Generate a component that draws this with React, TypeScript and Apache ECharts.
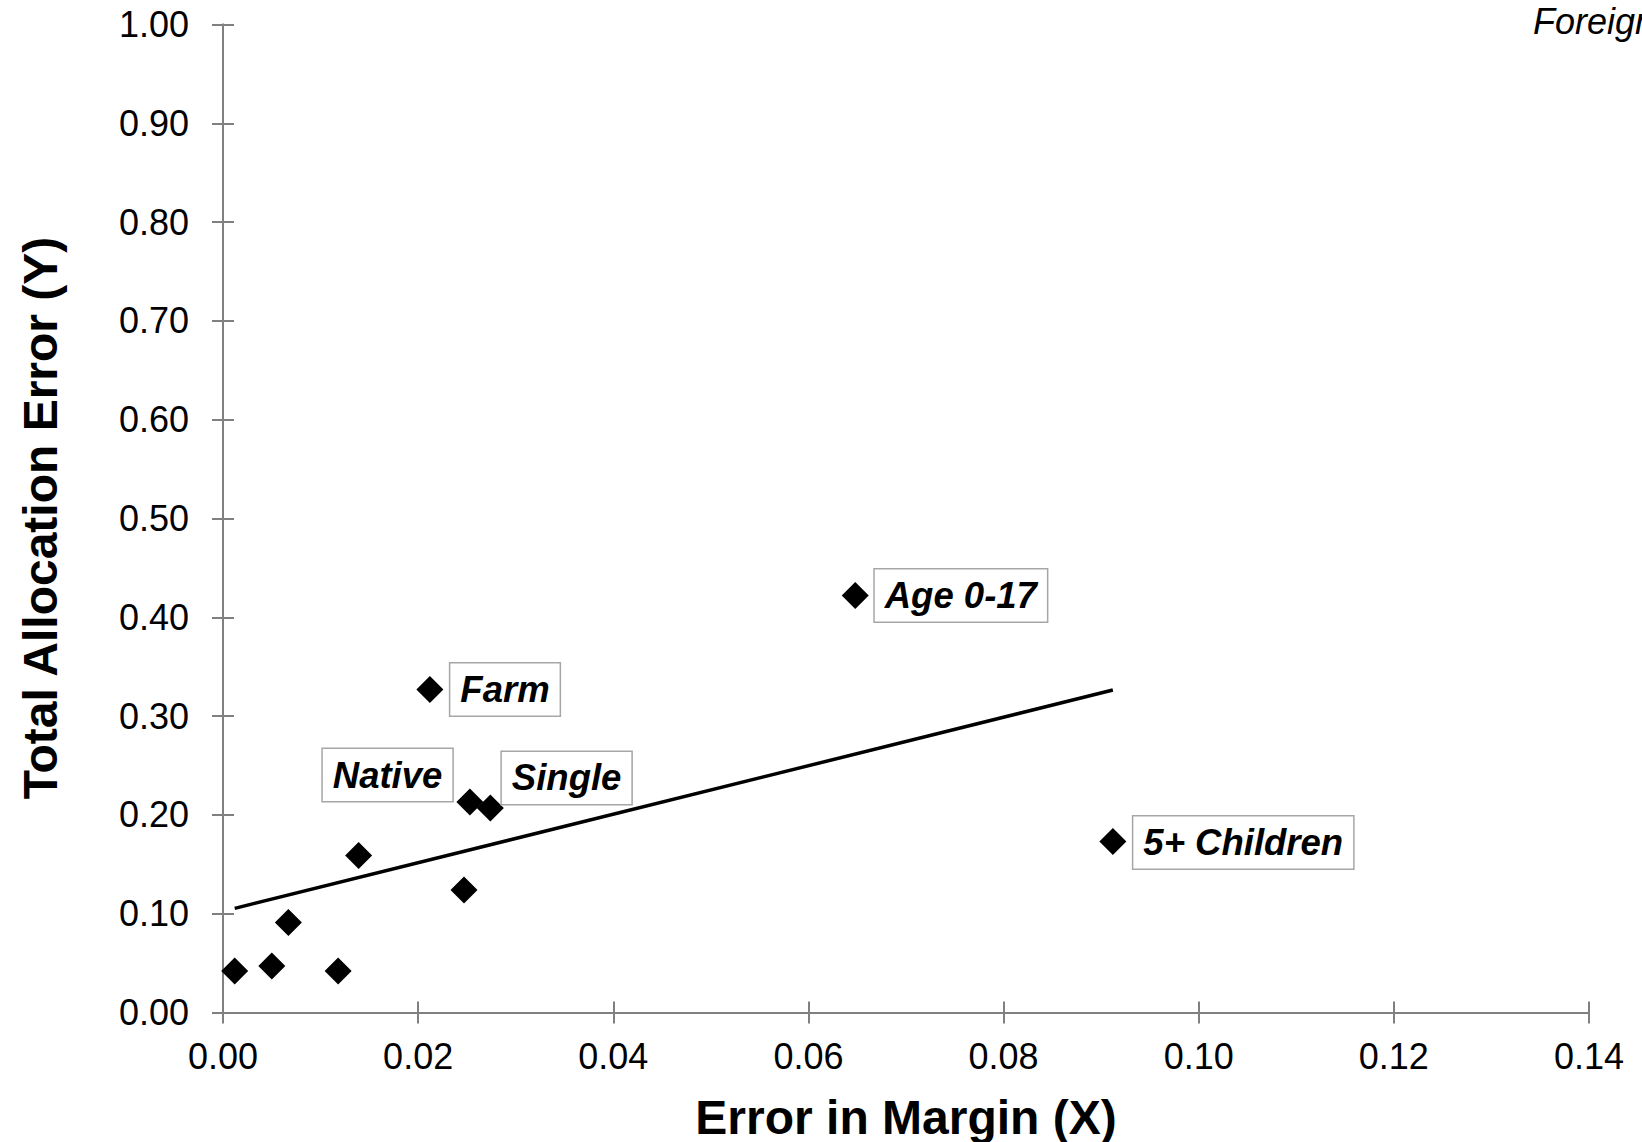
import React, { useEffect, useRef } from "react";
import * as echarts from "echarts";

// Data
const errorInMargin = [0.0012, 0.0050, 0.0067, 0.0118, 0.0139, 0.0212, 0.0247, 0.0253, 0.0274, 0.0648, 0.0912];
const totalAllocationError = [0.042, 0.047, 0.091, 0.042, 0.159, 0.327, 0.124, 0.213, 0.207, 0.422, 0.173];
const pointNames = ["", "", "", "", "", "Farm", "", "Native", "Single", "Age 0-17", "5+ Children"];
const xAxisRange = [0, 0.14];
const xTickStep = 0.02;
const yAxisRange = [0, 1];
const yTickStep = 0.1;
const xAxisTitle = "Error in Margin (X)";
const yAxisTitle = "Total Allocation Error (Y)";
const cornerNote = "Foreign Born";

const FONT = "'Liberation Sans', Arial, Helvetica, sans-serif";

function regression(xs: number[], ys: number[]) {
  const n = xs.length;
  const mx = xs.reduce((a, b) => a + b, 0) / n;
  const my = ys.reduce((a, b) => a + b, 0) / n;
  let sxy = 0;
  let sxx = 0;
  for (let i = 0; i < n; i++) {
    sxy += (xs[i] - mx) * (ys[i] - my);
    sxx += (xs[i] - mx) * (xs[i] - mx);
  }
  const slope = sxy / sxx;
  return { slope, intercept: my - slope * mx };
}

const labelPlacement: Record<string, any> = {
  Farm: { position: "right", distance: 7, offset: [0, 0] },
  Native: { position: "left", distance: 4, offset: [0, -27] },
  Single: { position: "right", distance: -2, offset: [0, -30] },
  "Age 0-17": { position: "right", distance: 6, offset: [0, 0] },
  "5+ Children": { position: "right", distance: 7, offset: [0, 1] },
};

export default function App() {
  const ref = useRef<HTMLDivElement>(null);

  useEffect(() => {
    if (!ref.current) return;
    const chart = echarts.init(ref.current, undefined, { renderer: "svg" });

    const { slope, intercept } = regression(errorInMargin, totalAllocationError);
    const xMin = Math.min(...errorInMargin);
    const xMax = Math.max(...errorInMargin);
    const trend = [
      [xMin, intercept + slope * xMin],
      [xMax, intercept + slope * xMax],
    ];

    const points = errorInMargin.map((x, i) => {
      const name = pointNames[i];
      const place = labelPlacement[name];
      return {
        value: [x, totalAllocationError[i]],
        name,
        label: name
          ? {
              show: true,
              formatter: name,
              position: place.position,
              distance: place.distance,
              offset: place.offset,
              color: "#000",
              opacity: 1,
              fontFamily: FONT,
              fontSize: 36.5,
              fontWeight: "bold",
              fontStyle: "italic",
              lineHeight: 42,
              backgroundColor: "#ffffff",
              borderColor: "#a6a6a6",
              borderWidth: 1.5,
              padding: [5, 10, 5, 10],
            }
          : { show: false },
      };
    });

    const axisLineStyle = { color: "#808080", width: 2 };
    const labelFmt = (v: number) => v.toFixed(2);

    const baseX = {
      type: "value",
      min: xAxisRange[0],
      max: xAxisRange[1],
      interval: xTickStep,
      position: "bottom",
      splitLine: { show: false },
      axisLine: { show: true, onZero: false, lineStyle: axisLineStyle },
    };
    const baseY = {
      type: "value",
      min: yAxisRange[0],
      max: yAxisRange[1],
      interval: yTickStep,
      position: "left",
      splitLine: { show: false },
      axisLine: { show: true, onZero: false, lineStyle: axisLineStyle },
    };

    chart.setOption({
      animation: false,
      backgroundColor: "#ffffff",
      grid: { left: 223, right: 53, top: 24.5, bottom: 129.5, containLabel: false },
      xAxis: [
        {
          ...baseX,
          axisTick: { show: true, inside: false, length: 11, lineStyle: axisLineStyle },
          axisLabel: {
            show: true,
            margin: 26,
            formatter: labelFmt,
            color: "#000",
            fontFamily: FONT,
            fontSize: 36,
          },
        },
        {
          ...baseX,
          axisTick: { show: true, inside: true, length: 11, lineStyle: axisLineStyle },
          axisLabel: { show: false },
        },
      ],
      yAxis: [
        {
          ...baseY,
          axisTick: { show: true, inside: false, length: 11, lineStyle: axisLineStyle },
          axisLabel: {
            show: true,
            margin: 34,
            formatter: labelFmt,
            color: "#000",
            fontFamily: FONT,
            fontSize: 36,
          },
        },
        {
          ...baseY,
          axisTick: { show: true, inside: true, length: 11, lineStyle: axisLineStyle },
          axisLabel: { show: false },
        },
      ],
      series: [
        {
          type: "line",
          data: trend,
          xAxisIndex: 0,
          yAxisIndex: 0,
          symbol: "none",
          silent: true,
          lineStyle: { color: "#000", width: 3.5, opacity: 1 },
          z: 2,
        },
        {
          type: "scatter",
          data: points,
          xAxisIndex: 0,
          yAxisIndex: 0,
          symbol: "diamond",
          symbolSize: 27,
          itemStyle: { color: "#000", opacity: 1 },
          z: 3,
        },
      ],
      graphic: [
        {
          type: "text",
          x: 906,
          y: 1117,
          style: {
            text: xAxisTitle,
            fontFamily: FONT,
            fontSize: 48,
            fontWeight: "bold",
            fill: "#000",
            align: "center",
            verticalAlign: "middle",
          },
        },
        {
          type: "text",
          x: 40,
          y: 518,
          rotation: Math.PI / 2,
          style: {
            text: yAxisTitle,
            fontFamily: FONT,
            fontSize: 48,
            fontWeight: "bold",
            fill: "#000",
            align: "center",
            verticalAlign: "middle",
          },
        },
        {
          type: "text",
          x: 1533,
          y: 21,
          style: {
            text: cornerNote,
            fontFamily: FONT,
            fontSize: 36,
            fontStyle: "italic",
            fill: "#000",
            align: "left",
            verticalAlign: "middle",
          },
        },
      ],
    });

    return () => chart.dispose();
  }, []);

  return (
    <div
      ref={ref}
      style={{ position: "absolute", left: 0, top: 0, width: 1642, height: 1142, background: "#fff" }}
    />
  );
}
